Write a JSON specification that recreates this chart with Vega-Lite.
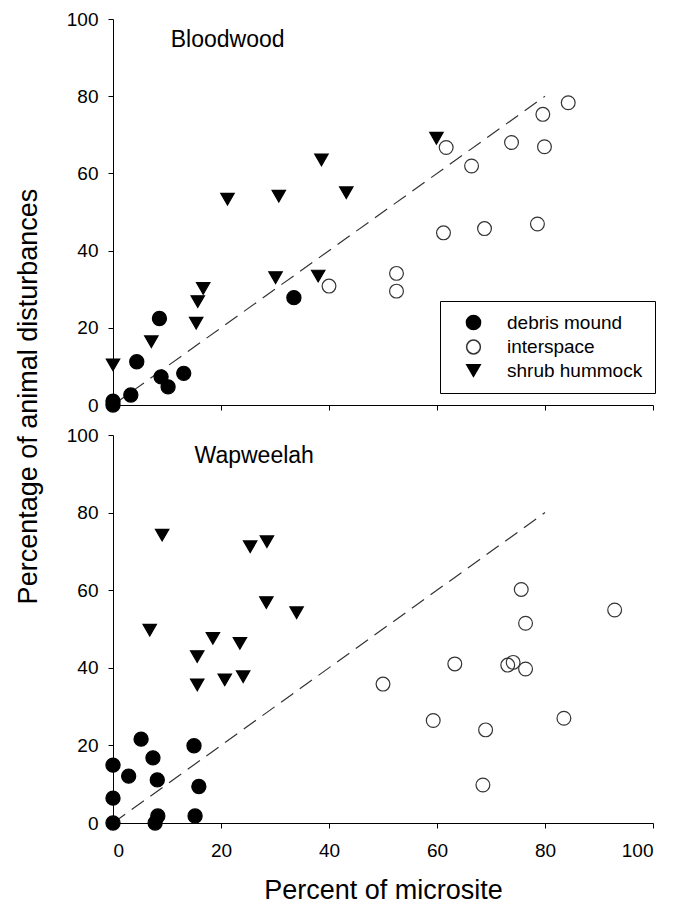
{
  "$schema": "https://vega.github.io/schema/vega-lite/v6.json",
  "background": "white",
  "padding": {"left": 14, "top": 10, "right": 5, "bottom": 0},
  "bounds": "flush",
  "spacing": 30,
  "config": {
    "font": "Liberation Sans",
    "view": {"stroke": null},
    "axis": {
      "domainColor": "black", "tickColor": "black", "labelColor": "black", "titleColor": "black",
      "grid": false, "labelFontSize": 19, "titleFontSize": 27, "titleFontWeight": "normal",
      "tickSize": 5, "labelPadding": 10, "domainWidth": 1, "tickWidth": 1
    },
    "axisY": {"titlePadding": 24},
    "axisX": {"labelPadding": 13, "titlePadding": 17},
    "legend": {"labelColor": "black", "labelFontSize": 19}
  },
  "datasets": {
    "points": [
      {"site": "Bloodwood", "type": "debris mound", "x": 0, "y": 0},
      {"site": "Bloodwood", "type": "debris mound", "x": 0, "y": 1},
      {"site": "Bloodwood", "type": "debris mound", "x": 3.3, "y": 2.6},
      {"site": "Bloodwood", "type": "debris mound", "x": 4.4, "y": 11.2},
      {"site": "Bloodwood", "type": "debris mound", "x": 8.6, "y": 22.4},
      {"site": "Bloodwood", "type": "debris mound", "x": 8.9, "y": 7.3},
      {"site": "Bloodwood", "type": "debris mound", "x": 10.2, "y": 4.7},
      {"site": "Bloodwood", "type": "debris mound", "x": 13.1, "y": 8.2},
      {"site": "Bloodwood", "type": "debris mound", "x": 33.5, "y": 27.8},
      {"site": "Bloodwood", "type": "interspace", "x": 84.3, "y": 78.3},
      {"site": "Bloodwood", "type": "interspace", "x": 79.6, "y": 75.3},
      {"site": "Bloodwood", "type": "interspace", "x": 73.8, "y": 68.0},
      {"site": "Bloodwood", "type": "interspace", "x": 79.9, "y": 66.9},
      {"site": "Bloodwood", "type": "interspace", "x": 61.7, "y": 66.7},
      {"site": "Bloodwood", "type": "interspace", "x": 66.4, "y": 61.9},
      {"site": "Bloodwood", "type": "interspace", "x": 61.2, "y": 44.6},
      {"site": "Bloodwood", "type": "interspace", "x": 68.8, "y": 45.7},
      {"site": "Bloodwood", "type": "interspace", "x": 78.6, "y": 46.9},
      {"site": "Bloodwood", "type": "interspace", "x": 52.5, "y": 34.1},
      {"site": "Bloodwood", "type": "interspace", "x": 52.5, "y": 29.5},
      {"site": "Bloodwood", "type": "interspace", "x": 40.0, "y": 30.8},
      {"site": "Bloodwood", "type": "shrub hummock", "x": 0, "y": 10.4},
      {"site": "Bloodwood", "type": "shrub hummock", "x": 7.1, "y": 16.4},
      {"site": "Bloodwood", "type": "shrub hummock", "x": 15.4, "y": 21.2},
      {"site": "Bloodwood", "type": "shrub hummock", "x": 15.7, "y": 26.8},
      {"site": "Bloodwood", "type": "shrub hummock", "x": 16.7, "y": 30.2},
      {"site": "Bloodwood", "type": "shrub hummock", "x": 21.2, "y": 53.3},
      {"site": "Bloodwood", "type": "shrub hummock", "x": 30.7, "y": 54.1},
      {"site": "Bloodwood", "type": "shrub hummock", "x": 30.1, "y": 33.0},
      {"site": "Bloodwood", "type": "shrub hummock", "x": 38.6, "y": 63.5},
      {"site": "Bloodwood", "type": "shrub hummock", "x": 38.0, "y": 33.4},
      {"site": "Bloodwood", "type": "shrub hummock", "x": 43.2, "y": 55.0},
      {"site": "Bloodwood", "type": "shrub hummock", "x": 59.9, "y": 69.1},
      {"site": "Wapweelah", "type": "debris mound", "x": 0, "y": 0},
      {"site": "Wapweelah", "type": "debris mound", "x": 0, "y": 6.4},
      {"site": "Wapweelah", "type": "debris mound", "x": 0, "y": 14.9},
      {"site": "Wapweelah", "type": "debris mound", "x": 2.9, "y": 12.1},
      {"site": "Wapweelah", "type": "debris mound", "x": 5.2, "y": 21.6},
      {"site": "Wapweelah", "type": "debris mound", "x": 7.4, "y": 16.8},
      {"site": "Wapweelah", "type": "debris mound", "x": 8.2, "y": 11.1},
      {"site": "Wapweelah", "type": "debris mound", "x": 8.3, "y": 1.8},
      {"site": "Wapweelah", "type": "debris mound", "x": 7.8, "y": 0},
      {"site": "Wapweelah", "type": "debris mound", "x": 15.0, "y": 19.9},
      {"site": "Wapweelah", "type": "debris mound", "x": 15.9, "y": 9.4},
      {"site": "Wapweelah", "type": "debris mound", "x": 15.2, "y": 1.8},
      {"site": "Wapweelah", "type": "shrub hummock", "x": 9.1, "y": 74.2},
      {"site": "Wapweelah", "type": "shrub hummock", "x": 6.8, "y": 49.7},
      {"site": "Wapweelah", "type": "shrub hummock", "x": 15.6, "y": 42.9},
      {"site": "Wapweelah", "type": "shrub hummock", "x": 15.6, "y": 35.6},
      {"site": "Wapweelah", "type": "shrub hummock", "x": 18.5, "y": 47.6},
      {"site": "Wapweelah", "type": "shrub hummock", "x": 20.7, "y": 36.9},
      {"site": "Wapweelah", "type": "shrub hummock", "x": 23.5, "y": 46.3},
      {"site": "Wapweelah", "type": "shrub hummock", "x": 24.1, "y": 37.7},
      {"site": "Wapweelah", "type": "shrub hummock", "x": 25.4, "y": 71.2},
      {"site": "Wapweelah", "type": "shrub hummock", "x": 28.5, "y": 72.5},
      {"site": "Wapweelah", "type": "shrub hummock", "x": 28.4, "y": 56.8},
      {"site": "Wapweelah", "type": "shrub hummock", "x": 34.0, "y": 54.2},
      {"site": "Wapweelah", "type": "interspace", "x": 75.6, "y": 60.2},
      {"site": "Wapweelah", "type": "interspace", "x": 76.4, "y": 51.5},
      {"site": "Wapweelah", "type": "interspace", "x": 92.9, "y": 54.9},
      {"site": "Wapweelah", "type": "interspace", "x": 63.3, "y": 41.0},
      {"site": "Wapweelah", "type": "interspace", "x": 73.1, "y": 40.7},
      {"site": "Wapweelah", "type": "interspace", "x": 74.1, "y": 41.4},
      {"site": "Wapweelah", "type": "interspace", "x": 76.4, "y": 39.7},
      {"site": "Wapweelah", "type": "interspace", "x": 50.0, "y": 35.8},
      {"site": "Wapweelah", "type": "interspace", "x": 59.3, "y": 26.4},
      {"site": "Wapweelah", "type": "interspace", "x": 69.0, "y": 24.0},
      {"site": "Wapweelah", "type": "interspace", "x": 83.5, "y": 27.0},
      {"site": "Wapweelah", "type": "interspace", "x": 68.5, "y": 9.8}
    ],
    "ref": [{"x": 0, "y": 0}, {"x": 80, "y": 80}],
    "labels": [
      {"site": "Bloodwood", "x": 10.7, "y": 92.8, "label": "Bloodwood"},
      {"site": "Wapweelah", "x": 15.1, "y": 92.9, "label": "Wapweelah"}
    ]
  },
  "vconcat": [
    {
      "width": 540,
      "height": 386,
      "encoding": {
        "x": {"field": "x", "type": "quantitative", "scale": {"domain": [0, 100], "nice": false},
              "axis": {"labels": false, "title": null, "values": [0, 20, 40, 60, 80, 100]}},
        "y": {"field": "y", "type": "quantitative", "scale": {"domain": [0, 100], "nice": false},
              "axis": {"title": "Percentage of animal disturbances", "titleY": 377, "values": [0, 20, 40, 60, 80, 100]}}
      },
      "layer": [
        {
          "data": {"name": "ref"},
          "mark": {"type": "line", "strokeDash": [15, 8], "color": "#333333", "strokeWidth": 1.2}
        },
        {
          "data": {"name": "points"},
          "transform": [{"filter": "datum.site === 'Bloodwood'"}],
          "mark": {"type": "point", "filled": true, "opacity": 1, "strokeWidth": 1.2},
          "encoding": {
            "shape": {"field": "type", "type": "nominal",
                      "scale": {"domain": ["debris mound", "interspace", "shrub hummock"], "range": ["circle", "circle", "triangle-down"]},
                      "legend": {"title": null, "orient": "none", "legendX": 327, "legendY": 282, "strokeColor": "black", "fillColor": "white", "padding": 12, "symbolOffset": 12, "labelOffset": 24, "rowPadding": 3.5, "cornerRadius": 0}},
            "fill": {"field": "type", "type": "nominal",
                     "scale": {"domain": ["debris mound", "interspace", "shrub hummock"], "range": ["black", "rgba(0,0,0,0)", "black"]}},
            "stroke": {"field": "type", "type": "nominal",
                       "scale": {"domain": ["debris mound", "interspace", "shrub hummock"], "range": ["black", "#333333", "black"]}},
            "size": {"field": "type", "type": "nominal",
                     "scale": {"domain": ["debris mound", "interspace", "shrub hummock"], "range": [200, 180, 230]}}
          }
        },
        {
          "data": {"name": "labels"},
          "transform": [{"filter": "datum.site === 'Bloodwood'"}],
          "mark": {"type": "text", "align": "left", "baseline": "alphabetic", "fontSize": 23, "color": "black"},
          "encoding": {"text": {"field": "label"}}
        }
      ]
    },
    {
      "width": 540,
      "height": 388,
      "encoding": {
        "x": {"field": "x", "type": "quantitative", "scale": {"domain": [0, 100], "nice": false},
              "axis": {"title": "Percent of microsite", "values": [0, 20, 40, 60, 80, 100]}},
        "y": {"field": "y", "type": "quantitative", "scale": {"domain": [0, 100], "nice": false},
              "axis": {"title": null, "values": [0, 20, 40, 60, 80, 100]}}
      },
      "layer": [
        {
          "data": {"name": "ref"},
          "mark": {"type": "line", "strokeDash": [15, 8], "color": "#333333", "strokeWidth": 1.2}
        },
        {
          "data": {"name": "points"},
          "transform": [{"filter": "datum.site === 'Wapweelah'"}],
          "mark": {"type": "point", "filled": true, "opacity": 1, "strokeWidth": 1.2},
          "encoding": {
            "shape": {"field": "type", "type": "nominal",
                      "scale": {"domain": ["debris mound", "interspace", "shrub hummock"], "range": ["circle", "circle", "triangle-down"]}},
            "fill": {"field": "type", "type": "nominal",
                     "scale": {"domain": ["debris mound", "interspace", "shrub hummock"], "range": ["black", "rgba(0,0,0,0)", "black"]}},
            "stroke": {"field": "type", "type": "nominal",
                       "scale": {"domain": ["debris mound", "interspace", "shrub hummock"], "range": ["black", "#333333", "black"]}},
            "size": {"field": "type", "type": "nominal",
                     "scale": {"domain": ["debris mound", "interspace", "shrub hummock"], "range": [200, 180, 230]}}
          }
        },
        {
          "data": {"name": "labels"},
          "transform": [{"filter": "datum.site === 'Wapweelah'"}],
          "mark": {"type": "text", "align": "left", "baseline": "alphabetic", "fontSize": 23, "color": "black"},
          "encoding": {"text": {"field": "label"}}
        }
      ]
    }
  ]
}
